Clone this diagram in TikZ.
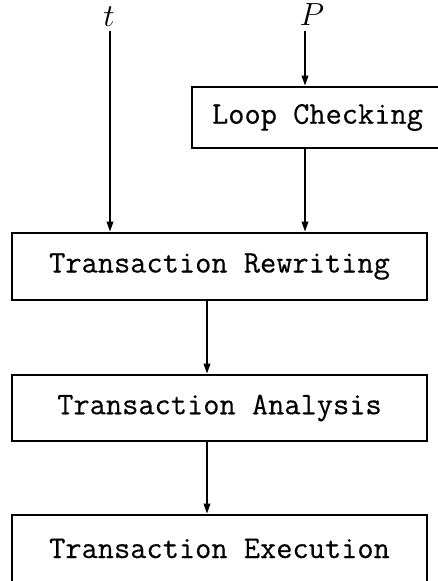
\RequirePackage{fix-cm}
\documentclass[tikz,border=0pt]{standalone}
\usepackage{fontspec}
\setmonofont{Latin Modern Mono}[FakeBold=0.35]
\usetikzlibrary{arrows.meta}
\tikzset{
  stage/.style={draw, line width=2.6pt, rectangle, inner sep=0pt,
    font=\fontsize{31.5}{36}\selectfont\ttfamily},
  flow/.style={line width=1.8pt, -{Triangle[length=10pt,width=6.5pt]}},
  lbl/.style={inner sep=0pt, font=\fontsize{32}{36}\selectfont}
}
\begin{document}
\begin{tikzpicture}[x=1pt, y=-1pt]
  \useasboundingbox (0,0) rectangle (438,581);
  % inputs
  \node[lbl] (t) at (109,16.5) {$t$};
  \node[lbl] (P) at (312,15) {$P$};
  \coordinate (tstart) at (110,31);
  \coordinate (pstart) at (305,31);
  % processing stages
  \node[stage, minimum width=251pt, minimum height=61pt] (loop) at (317.5,117.5) {Loop Checking};
  \node[stage, minimum width=415pt, minimum height=67pt] (rw) at (219.5,266.5) {Transaction Rewriting};
  \node[stage, minimum width=415pt, minimum height=66pt] (an) at (219.5,408) {Transaction Analysis};
  \node[stage, minimum width=415pt, minimum height=67pt] (ex) at (219.5,548.5) {Transaction Execution};
  % connectors
  \draw[flow] (tstart) -- (tstart |- rw.north);
  \draw[flow] (pstart) -- (pstart |- loop.north);
  \draw[flow] (pstart |- loop.south) -- (pstart |- rw.north);
  \coordinate (mid) at (207,0);
  \draw[flow] (mid |- rw.south) -- (mid |- an.north);
  \draw[flow] (mid |- an.south) -- (mid |- ex.north);
\end{tikzpicture}
\end{document}
